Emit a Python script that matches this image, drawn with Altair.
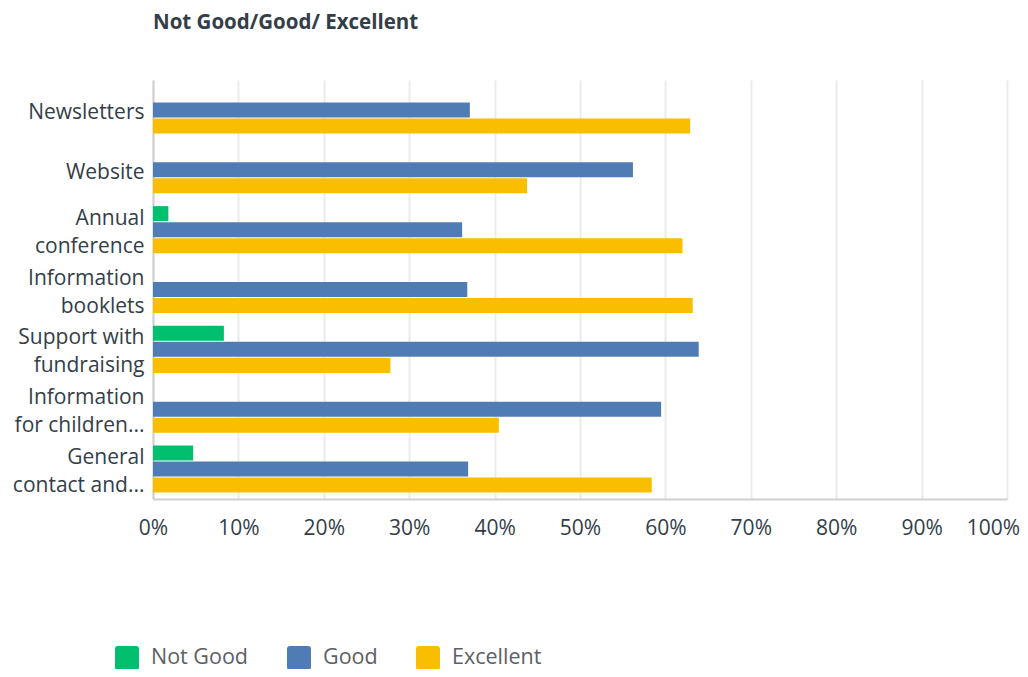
import altair as alt
import pandas as pd

categories = ["Newsletters", "Website", "Annual conference", "Information booklets",
              "Support with fundraising", "Information for children...", "General contact and..."]
label_lines = [["Newsletters"], ["Website"], ["Annual", "conference"], ["Information", "booklets"],
               ["Support with", "fundraising"], ["Information", "for children..."], ["General", "contact and..."]]
series = ["Not Good", "Good", "Excellent"]
not_good = [0.0, 0.0, 1.8, 0.0, 8.3, 0.0, 4.7]
good = [37.1, 56.2, 36.2, 36.8, 63.9, 59.5, 36.9]
excellent = [62.9, 43.8, 62.0, 63.2, 27.8, 40.5, 58.4]
colors = ["#00bf6f", "#507cb6", "#f9be00"]
x_ticks = [0, 0.1, 0.2, 0.3, 0.4, 0.5, 0.6, 0.7, 0.8, 0.9, 1.0]

rows = []
for i, c in enumerate(categories):
    for s, vals in zip(series, [not_good, good, excellent]):
        rows.append({"category": "|".join(label_lines[i]), "series": s, "value": vals[i] / 100})
df = pd.DataFrame(rows)
cat_order = ["|".join(l) for l in label_lines]

rounded = "M-0.75,-1 L0.75,-1 Q1,-1 1,-0.75 L1,0.75 Q1,1 0.75,1 L-0.75,1 Q-1,1 -1,0.75 L-1,-0.75 Q-1,-1 -0.75,-1 Z"

chart = alt.Chart(df).mark_bar().encode(
    y=alt.Y("category:N", sort=cat_order,
            scale=alt.Scale(paddingInner=0, paddingOuter=0),
            axis=alt.Axis(title=None, labelExpr="split(datum.value, '|')", ticks=False, tickSize=0,
                          domain=True, domainColor="#d0d0d0", domainWidth=2,
                          labelFontSize=21, labelColor="#333e48", labelPadding=9,
                          labelLineHeight=28, labelFont="Open Sans", grid=False,
                          labelOffset={"condition": {"test": "indexof(datum.value, '|') >= 0", "value": -11},
                                       "value": 3})),
    x=alt.X("value:Q", scale=alt.Scale(domain=[0, 1]),
            axis=alt.Axis(title=None, format=".0%", values=x_ticks, ticks=False, tickSize=0,
                          domain=True, domainColor="#d0d0d0", domainWidth=2,
                          grid=True, gridColor="#ececec", gridWidth=2,
                          labelFontSize=21, labelColor="#333e48", labelPadding=18,
                          labelFont="Open Sans", labelFlush=False,
                          labelOffset={"condition": {"test": "datum.value >= 1", "value": -14},
                                       "value": 0})),
    yOffset=alt.YOffset("series:N", sort=series,
                        scale=alt.Scale(paddingInner=0.0625, paddingOuter=0.4)),
    color=alt.Color("series:N", sort=series,
                    scale=alt.Scale(domain=series, range=colors),
                    legend=alt.Legend(title=None, orient="none", legendX=-38, legendY=566,
                                      direction="horizontal", symbolType=rounded, symbolSize=576,
                                      symbolStrokeWidth=0, symbolOpacity=1,
                                      labelFontSize=21.5, labelColor="#5b6066", labelFont="Open Sans",
                                      labelOffset=12, columnPadding=38)),
).properties(
    width=854, height=419,
    title=alt.Title("Not Good/Good/ Excellent", anchor="start", frame="group", fontSize=20.5,
                    fontWeight="bold", color="#333e48", font="Open Sans", offset=47),
    padding={"left": 145, "top": 72, "right": 13, "bottom": 170},
    autosize=alt.AutoSizeParams(type="none"),
).configure_view(strokeOpacity=0)

chart.save("out.html", embed_options={"renderer": "svg", "actions": False})
